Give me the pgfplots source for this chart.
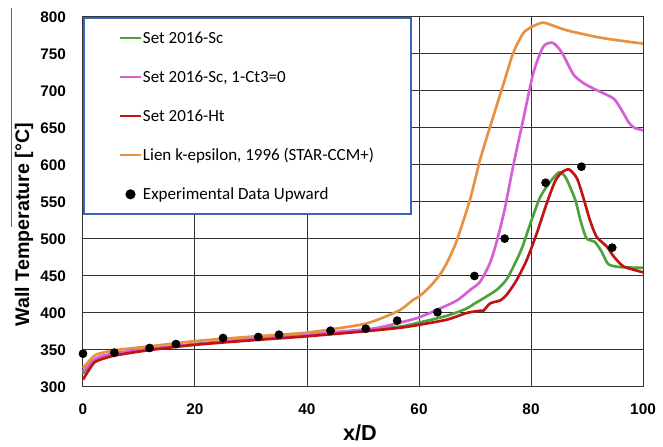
\documentclass[border=0pt]{standalone}
\usepackage{pgfplots}
\pgfplotsset{compat=1.18}
\usepackage{fontspec}
\setmainfont{Liberation Sans}
\newfontfamily\carlito{Carlito}
\definecolor{cgreen}{RGB}{76,163,60}
\definecolor{cmag}{RGB}{214,94,214}
\definecolor{cred}{RGB}{192,20,20}
\definecolor{corange}{RGB}{230,146,64}
\definecolor{cblue}{RGB}{60,100,185}
\pgfplotsset{dotlegend/.style={legend image code/.code={\draw[##1] plot coordinates {(6.3pt,0pt)};}}}
\begin{document}
\begin{tikzpicture}
\begin{axis}[
  scale only axis, width=336pt, height=222pt,
  xmin=0, xmax=100, ymin=300, ymax=800,
  xtick={0,20,...,100}, ytick={300,350,...,800},
  clip=false,
  grid=major,
  major grid style={line width=0.6pt, black!80},
  axis line style={line width=0.6pt, black!80},
  major tick length=0pt,
  /pgf/number format/assume math mode=true,
  tick label style={font=\fontsize{9.2}{11}\selectfont\bfseries},
  yticklabel style={xshift=-6.7pt},
  xticklabel style={yshift=-6.8pt},
  every axis y label/.style={at={(axis description cs:-0.1054,0.438)}, rotate=90, anchor=center, font=\fontsize{11.8}{14}\selectfont\bfseries},
  every axis x label/.style={at={(axis description cs:0.4946,-0.124)}, anchor=center, font=\fontsize{13}{15}\selectfont\bfseries},
  xlabel={x/D},
  ylabel={Wall Temperature [°C]},
  legend image code/.code={\draw[mark repeat=2,mark phase=2,#1] plot coordinates {(0pt,0pt)(6.3pt,0pt)(12.6pt,0pt)};},
  legend style={at={(0,1)}, anchor=north west, draw=cblue, line width=1.2pt, fill=white,
    inner xsep=21pt, inner ysep=6.5pt, row sep=12.9pt, column sep=0.6pt,
    cells={anchor=west},
    nodes={inner sep=0pt, text height=8.6pt, text depth=2pt},
    font=\carlito\fontsize{10.2}{12}\selectfont},
  legend image post style={line width=1.2pt},
]
\addplot[cgreen, line width=1.6pt, smooth, tension=0.4] coordinates {
(0,318) (1,327) (2,335) (3.5,340) (6,345) (12,351) (20,358) (30,364.5) (40,370) (50,376.5) (53,379) (57,382) (60,387) (64.9,396) (68.5,406) (70,413) (72,422) (74,432) (75.7,446) (77.4,471) (78.5,490) (79.8,519) (81.6,556) (83.4,577) (85,590) (86.2,583) (87.9,553) (88.8,526) (89.9,501) (91.4,496) (92.6,483) (93.8,466) (95.9,462) (100,461)};
\addlegendentry{\makebox[140pt][l]{Set 2016-Sc}}
\addplot[cmag, line width=1.6pt, smooth, tension=0.4] coordinates {
(0,321) (1.5,334) (3,341) (6,346) (12,352) (20,357.5) (30,365) (40,371) (50,377.5) (53,380.5) (59.6,393) (64.9,410) (67,418) (69.1,431) (70.9,442) (72.7,468) (73.9,497) (75.3,540) (76.8,598) (78.6,661) (80.4,724) (82.2,760) (83.9,765) (85.5,752) (87.6,722) (89.5,710) (91.5,702) (93.5,695) (95,688) (96.5,670) (97.5,657) (98.5,650) (100,647)};
\addlegendentry{Set 2016-Sc, 1-Ct3=0}
\addplot[cred, line width=1.6pt, smooth, tension=0.4] coordinates {
(0,310) (0.9,321) (2,333) (3.5,338) (6,343) (12,350) (20,357) (30,363) (40,368.5) (50,375) (56.6,380) (60,384) (65,391) (68.5,400) (70.9,403) (71.5,403) (72.7,413) (74.5,417) (75.7,425) (77.4,444) (79.2,471) (81,507) (82.8,548) (84.3,578) (85.5,590) (86.8,594) (88.2,582) (89.3,557) (90.5,526) (91.7,503) (93.5,490) (94.7,477) (96.5,463) (99.5,456) (100,455)};
\addlegendentry{Set 2016-Ht}
\addplot[corange, line width=1.6pt, smooth, tension=0.4] coordinates {
(0,326) (1.2,336) (2.4,344) (6,350) (12,355) (20,362) (30,368) (40,373.5) (49.5,384) (53,392) (56.6,404) (59,418) (60,422) (62,436) (63.75,452) (65,468) (66.7,497) (69.1,553) (70.9,607) (72.7,652) (75.1,710) (76.8,751) (78.6,778) (80,786) (81.6,791.5) (82.5,792) (86.4,782) (91.7,773) (95,769) (100,764)};
\addlegendentry{Lien k-epsilon, 1996 (STAR-CCM+)}
\addplot[only marks, mark=*, mark size=2.4pt, black, dotlegend] coordinates {
(0,345) (5.6,346.4) (11.9,352.7) (16.6,358) (25.0,366.2) (31.3,367.6) (35.0,370.7) (44.2,376) (50.5,378.8) (56.1,389.6) (63.3,400.9) (69.9,450) (75.3,500.5) (82.6,576) (89.0,597.7) (94.5,488.3)};
\addlegendentry{Experimental Data Upward}
\draw[black!60, line width=0.6pt] (axis description cs:-0.127,1.024) -- (axis description cs:-0.127,0.432);
\path (axis description cs:-0.1482,-0.1514) rectangle (axis description cs:1.0357,1.0459);
\end{axis}
\end{tikzpicture}
\end{document}
